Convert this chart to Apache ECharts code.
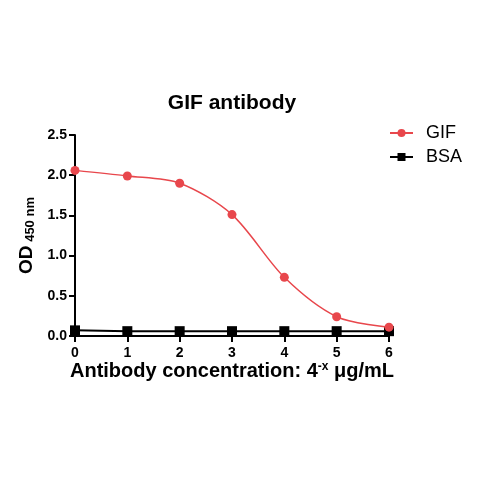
<!DOCTYPE html>
<html>
<head>
<meta charset="utf-8">
<script src="https://cdn.jsdelivr.net/npm/echarts@6/dist/echarts.min.js"></script>
<style>
  html, body { margin: 0; padding: 0; background: #fff; }
  #chart { width: 480px; height: 480px; }
</style>
</head>
<body>
<div id="chart"></div>
<script>
// 稀释倍数 x (4^-x μg/mL)
var doses = [0, 1, 2, 3, 4, 5, 6];
// OD450 读数
var gifValues = [2.06, 1.99, 1.90, 1.51, 0.73, 0.24, 0.11];
var bsaValues = [0.07, 0.06, 0.06, 0.06, 0.06, 0.06, 0.06];

function pairs(xs, ys) {
    return xs.map(function (x, i) { return [x, ys[i]]; });
}

var myChart = echarts.init(document.getElementById('chart'));
var font = 'Liberation Sans, Arial, sans-serif';

var option = {
    animation: false,
    title: {
        text: 'GIF antibody',
        left: 227,
        top: 88,
        textAlign: 'center',
        textStyle: { fontFamily: font, fontSize: 21, fontWeight: 'bold', color: '#000' }
    },
    legend: {
        orient: 'vertical',
        left: 384,
        top: 118,
        itemWidth: 23,
        itemHeight: 10,
        itemGap: 4,
        textStyle: { fontFamily: font, fontSize: 18, lineHeight: 20, color: '#000', padding: [0, 0, 0, 8] },
        data: ['GIF', 'BSA']
    },
    grid: { left: 75, right: 91, top: 135, bottom: 144 },
    xAxis: {
        type: 'value',
        min: 0,
        max: 6,
        interval: 1,
        name: '{a|Antibody concentration: 4}{s|-x}{a| μg/mL}',
        nameLocation: 'middle',
        nameGap: 20,
        nameTextStyle: {
            rich: {
                a: { fontFamily: font, fontSize: 20, fontWeight: 'bold', color: '#000' },
                s: { fontFamily: font, fontSize: 12, fontWeight: 'bold', color: '#000', verticalAlign: 'top', padding: [0, 0, 10, 0] }
            }
        },
        axisLine: { lineStyle: { color: '#000', width: 2 } },
        axisTick: { show: true, length: 6, lineStyle: { color: '#000', width: 2 } },
        axisLabel: { fontFamily: font, fontSize: 14, fontWeight: 'bold', color: '#000', margin: 10 },
        splitLine: { show: false }
    },
    yAxis: {
        type: 'value',
        min: 0,
        max: 2.5,
        interval: 0.5,
        name: '{a|OD}{b| 450 nm}',
        nameLocation: 'middle',
        nameGap: 38,
        nameRotate: 90,
        nameTextStyle: {
            rich: {
                a: { fontFamily: font, fontSize: 19, fontWeight: 'bold', color: '#000' },
                b: { fontFamily: font, fontSize: 13, fontWeight: 'bold', color: '#000', verticalAlign: 'bottom' }
            }
        },
        axisLine: { show: true, lineStyle: { color: '#000', width: 2 } },
        axisTick: { show: true, length: 6, lineStyle: { color: '#000', width: 2 } },
        axisLabel: {
            fontFamily: font, fontSize: 14, fontWeight: 'bold', color: '#000', margin: 8,
            formatter: function (v) { return v.toFixed(1); }
        },
        splitLine: { show: false }
    },
    series: [
        {
            name: 'BSA',
            type: 'line',
            data: pairs(doses, bsaValues),
            symbol: 'rect',
            symbolSize: 10,
            lineStyle: { color: '#000', width: 2 },
            itemStyle: { color: '#000' },
            z: 2
        },
        {
            name: 'GIF',
            type: 'line',
            smooth: 0.3,
            data: pairs(doses, gifValues),
            symbol: 'circle',
            symbolSize: 9,
            lineStyle: { color: '#e8474c', width: 1.5 },
            itemStyle: { color: '#e8474c' },
            z: 3
        }
    ]
};

myChart.setOption(option);
</script>
</body>
</html>
